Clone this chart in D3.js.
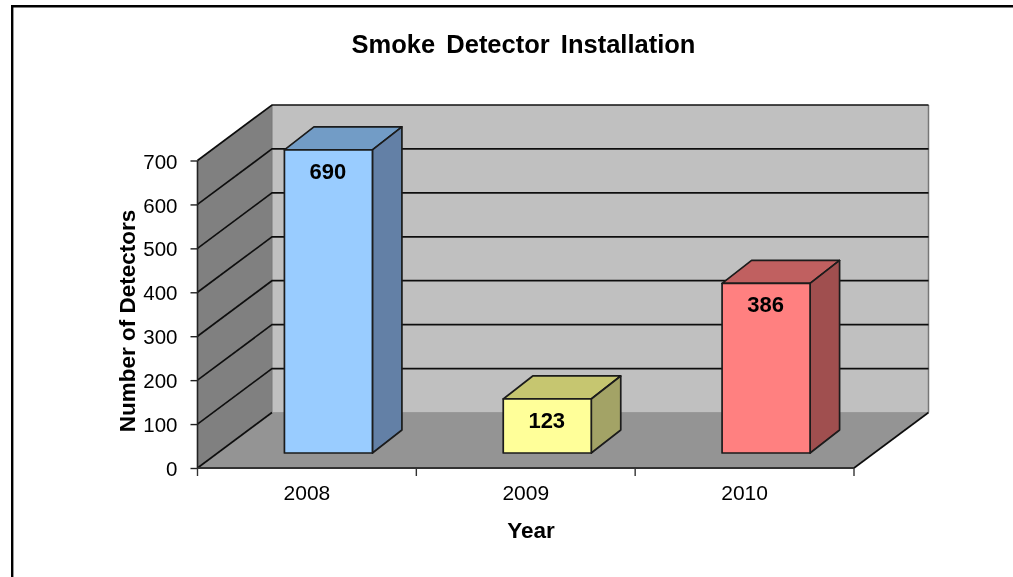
<!DOCTYPE html>
<html><head><meta charset="utf-8">
<script src="https://cdn.jsdelivr.net/npm/d3@7"></script>
<style>html,body{margin:0;padding:0;background:#fff}svg{display:block}text{font-family:"Liberation Sans",Arial,sans-serif;fill:#000}</style>
</head><body><svg id="c" width="1013" height="577"></svg>
<script>
const categories=["2008","2009","2010"];
const detectors=[690,123,386];
const yTicks=[0,100,200,300,400,500,600,700];
const faceColors=["#99ccff","#ffff99","#ff8080"];
const topColors=["#729cc6","#c6c670","#c06060"];
const sideColors=["#6380a6","#a3a366","#a05050"];
const chartTitle="Smoke Detector Installation";
const xTitle="Year", yTitle="Number of Detectors";

const svg=d3.select("#c");
svg.append("defs").append("filter").attr("id","soft").attr("x","-2%").attr("y","-2%").attr("width","104%").attr("height","104%")
  .append("feGaussianBlur").attr("stdDeviation",0.45);
const g=svg.append("g").attr("filter","url(#soft)");
const x=d3.scaleBand().domain(categories).range([197.5,854]);
const y=d3.scaleLinear().domain([0,700]).range([468,160.5]);
const D={x:74.5,y:-55.5};       // depth of the box
const barShift={x:21.5,y:-15};  // bar front plane inside the box
const barD={x:29.5,y:-23};      // bar depth
const barW=88;
const poly=p=>d3.line()(p)+"Z";
const L=x.range()[0],R=x.range()[1];
const y0=y(0),yT=y(700);
const font='"Liberation Sans",Arial,sans-serif';

// frame
g.append("path").attr("d",`M12.2,577V6.2H1013`).attr("fill","none").attr("stroke","#000").attr("stroke-width",2.4);

// walls
g.append("path").attr("d",poly([[L+D.x,y0+D.y],[R+D.x,y0+D.y],[R+D.x,yT+D.y],[L+D.x,yT+D.y]])).attr("fill","#c0c0c0");
g.append("path").attr("d",poly([[L,y0],[L+D.x,y0+D.y],[L+D.x,yT+D.y],[L,yT]])).attr("fill","#808080");
g.append("path").attr("d",poly([[L,y0],[R,y0],[R+D.x,y0+D.y],[L+D.x,y0+D.y]])).attr("fill","#949494");

// wall edges
g.append("line").attr("x1",R+D.x).attr("x2",R+D.x).attr("y1",yT+D.y).attr("y2",y0+D.y).attr("stroke","#777").attr("stroke-width",1.5);
g.append("line").attr("x1",L+D.x).attr("x2",L+D.x).attr("y1",yT+D.y).attr("y2",y0+D.y).attr("stroke","#777").attr("stroke-width",1);
g.append("line").attr("x1",L+D.x).attr("x2",R+D.x).attr("y1",y0+D.y).attr("y2",y0+D.y).attr("stroke","#999").attr("stroke-width",1);

// gridlines
yTicks.forEach(t=>{
  const pts=[[L,y(t)],[L+D.x,y(t)+D.y]];
  if(t>0) pts.push([R+D.x,y(t)+D.y]);
  g.append("path").attr("d",d3.line()(pts)).attr("fill","none").attr("stroke","#111").attr("stroke-width",1.7);
});
// floor edges
g.append("path").attr("d",d3.line()([[R,y0],[R+D.x,y0+D.y]])).attr("fill","none").attr("stroke","#111").attr("stroke-width",1.7);
g.append("line").attr("x1",L).attr("x2",R).attr("y1",y0).attr("y2",y0).attr("stroke","#333").attr("stroke-width",2);
g.append("line").attr("x1",L).attr("x2",L).attr("y1",yT).attr("y2",y0).attr("stroke","#222").attr("stroke-width",1.6);

// axes
const yAxis=d3.axisLeft(y).tickValues(yTicks).tickSize(7).tickSizeOuter(0).tickPadding(13);
const ya=g.append("g").attr("transform",`translate(${L},0)`).call(yAxis);
ya.select(".domain").remove();
ya.selectAll("text").attr("font-size",20.5).attr("font-family",font).attr("dy","0.37em");
ya.selectAll("line").attr("stroke","#222").attr("stroke-width",1.4);
const xTickPos=[...categories.map(c=>x(c)),R];
xTickPos.forEach(p=>g.append("line").attr("x1",p).attr("x2",p).attr("y1",y0).attr("y2",y0+8).attr("stroke","#333").attr("stroke-width",1.4));
const xa=g.append("g").attr("transform",`translate(0,${y0})`).call(d3.axisBottom(x).tickSize(0).tickPadding(17.5));
xa.select(".domain").remove();
xa.selectAll("text").attr("font-size",21).attr("font-family",font);

// bars
const stroke="#1a1a1a";
categories.forEach((c,i)=>{
  const xl=x(c)+(x.bandwidth()-barW)/2+barShift.x, xr=xl+barW;
  const yb=y(0)+barShift.y, yt=y(detectors[i])+barShift.y;
  const b=g.append("g").attr("stroke",stroke).attr("stroke-width",1.7).attr("stroke-linejoin","round");
  b.append("path").attr("d",poly([[xl,yt],[xr,yt],[xr+barD.x,yt+barD.y],[xl+barD.x,yt+barD.y]])).attr("fill",topColors[i]);
  b.append("path").attr("d",poly([[xr,yt],[xr+barD.x,yt+barD.y],[xr+barD.x,yb+barD.y],[xr,yb]])).attr("fill",sideColors[i]);
  b.append("path").attr("d",poly([[xl,yt],[xr,yt],[xr,yb],[xl,yb]])).attr("fill",faceColors[i]);
  g.append("text").attr("x",(xl+xr)/2-0.5).attr("y",yt+29).attr("text-anchor","middle")
   .attr("font-size",22).attr("font-weight","bold").text(detectors[i]);
});

// titles
g.append("text").attr("x",523.5).attr("y",52.5).attr("text-anchor","middle").attr("font-size",25.5).attr("font-weight","bold").attr("word-spacing",4).text(chartTitle);
g.append("text").attr("x",531).attr("y",538).attr("text-anchor","middle").attr("font-size",22.5).attr("font-weight","bold").text(xTitle);
g.append("text").attr("transform","translate(134.5,321) rotate(-90)").attr("text-anchor","middle").attr("font-size",22.5).attr("font-weight","bold").text(yTitle);
</script></body></html>
